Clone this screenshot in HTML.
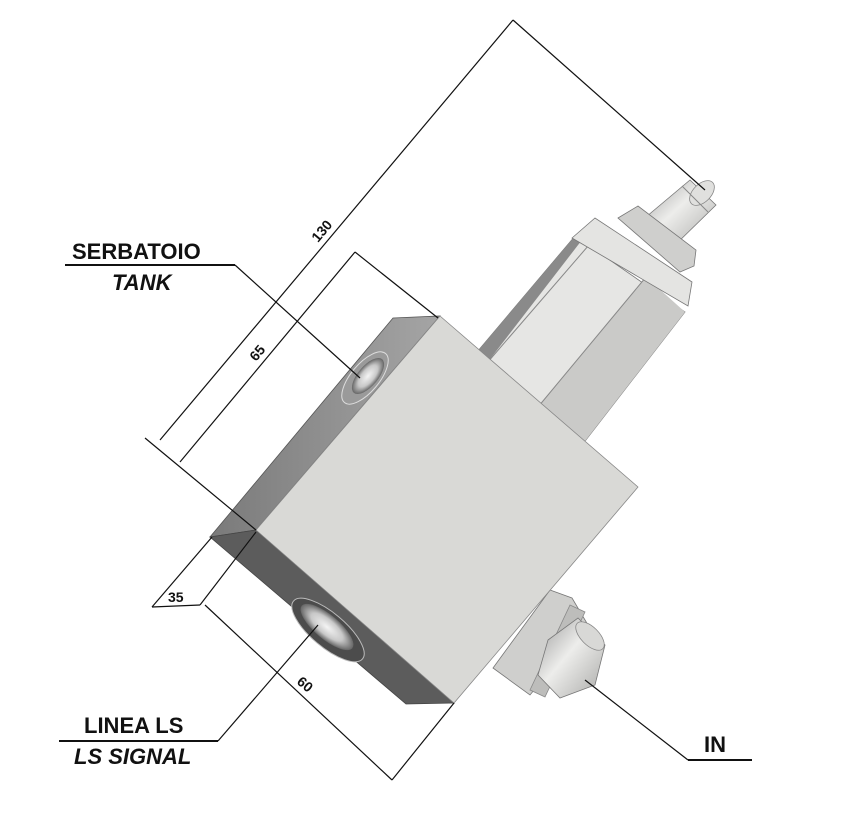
<!DOCTYPE html>
<html><head><style>
body{margin:0;background:#fff;}
svg{display:block;}
text{font-family:"Liberation Sans",sans-serif;font-weight:bold;fill:#111;}
</style></head><body>
<svg width="857" height="822" viewBox="0 0 857 822">
<defs>
<linearGradient id="cyl" x1="0" y1="0" x2="1" y2="1">
<stop offset="0" stop-color="#9a9a9a"/><stop offset="0.45" stop-color="#ededeb"/><stop offset="1" stop-color="#a8a8a6"/>
</linearGradient>
<linearGradient id="side" x1="0" y1="0" x2="1" y2="0">
<stop offset="0" stop-color="#7a7a7a"/><stop offset="1" stop-color="#a5a5a5"/>
</linearGradient>
<radialGradient id="hole"><stop offset="0" stop-color="#f4f4f4"/><stop offset="0.6" stop-color="#c8c8c8"/><stop offset="1" stop-color="#666"/></radialGradient>
</defs>

<!-- cartridge upper -->
<polygon points="640,222 690,180 716,205 670,250" fill="url(#cyl)" stroke="#777" stroke-width="0.8"/>
<ellipse cx="702" cy="193" rx="15" ry="9" transform="rotate(-45 702 193)" fill="#e0e0de" stroke="#888" stroke-width="0.8"/>
<line x1="682" y1="186" x2="708" y2="212" stroke="#888" stroke-width="1"/>
<polygon points="618,218 638,206 696,250 694,266 680,272" fill="#cfcfcd" stroke="#777" stroke-width="0.8"/>
<polygon points="477,352 575,236 685,312 582,445" fill="#e6e6e4" stroke="#777" stroke-width="0.8"/>
<polygon points="477,352 575,236 585,236 487,363" fill="#8a8a8a"/>
<polygon points="538,407 646,277 685,312 582,445" fill="#cacac8"/>
<line x1="487" y1="363" x2="595" y2="238" stroke="#888" stroke-width="1"/>
<line x1="538" y1="407" x2="646" y2="277" stroke="#888" stroke-width="1"/>
<polygon points="572,238 595,218 692,282 688,306" fill="#e4e4e2" stroke="#777" stroke-width="0.8"/>

<!-- lower fitting -->
<polygon points="493,668 550,590 572,598 588,625 530,695" fill="#cfcfcd" stroke="#777" stroke-width="0.8"/>
<polygon points="530,690 570,605 585,612 545,697" fill="#bdbdbb" stroke="#888" stroke-width="0.8"/>
<polygon points="548,640 578,618 605,645 595,685 560,698 538,675" fill="url(#cyl)" stroke="#777" stroke-width="0.8"/>
<ellipse cx="590" cy="636" rx="18" ry="9" transform="rotate(45 590 636)" fill="#d8d8d6" stroke="#888" stroke-width="0.8"/>

<!-- block -->
<polygon points="393,318 440,316 256,530 210,537" fill="url(#side)" stroke="#555" stroke-width="0.8"/>
<polygon points="210,537 256,530 454,703 406,704" fill="#5c5c5c" stroke="#444" stroke-width="0.8"/>
<polygon points="440,316 638,487 454,703 256,530" fill="#d9d9d6" stroke="#888" stroke-width="0.8"/>
<ellipse cx="365" cy="378" rx="32" ry="14" transform="rotate(-50 365 378)" fill="#9a9a9a" stroke="#ddd" stroke-width="1"/>
<ellipse cx="368" cy="376" rx="22" ry="10" transform="rotate(-50 368 376)" fill="url(#hole)"/>
<ellipse cx="328" cy="630" rx="45" ry="17" transform="rotate(40 328 630)" fill="#4c4c4c" stroke="#bbb" stroke-width="1"/>
<ellipse cx="327" cy="627" rx="33" ry="12" transform="rotate(40 327 627)" fill="url(#hole)"/>

<!-- dimension lines -->
<g stroke="#111" stroke-width="1.2" fill="none">
<line x1="160" y1="440" x2="513" y2="20"/>
<line x1="513" y1="20" x2="705" y2="190"/>
<line x1="145" y1="438" x2="256" y2="530"/>
<line x1="180" y1="462" x2="355" y2="252"/>
<line x1="355" y1="252" x2="438" y2="318"/>
<line x1="152" y1="607" x2="200" y2="605"/>
<line x1="152" y1="607" x2="212" y2="537"/>
<line x1="200" y1="605" x2="256" y2="532"/>
<line x1="205" y1="605" x2="392" y2="780"/>
<line x1="392" y1="780" x2="454" y2="703"/>
<line x1="65" y1="265" x2="235" y2="265" stroke-width="2"/>
<line x1="235" y1="265" x2="360" y2="378"/>
<line x1="59" y1="741" x2="218" y2="741" stroke-width="2"/>
<line x1="218" y1="741" x2="318" y2="625"/>
<line x1="688" y1="760" x2="752" y2="760" stroke-width="2"/>
<line x1="688" y1="760" x2="585" y2="680"/>
</g>
<text x="0" y="0" font-size="14" font-weight="normal" transform="translate(318,243) rotate(-50)">130</text>
<text x="0" y="0" font-size="14" font-weight="normal" transform="translate(256,362) rotate(-50)">65</text>
<text x="168" y="602" font-size="14">35</text>
<text x="0" y="0" font-size="14" font-weight="normal" transform="translate(296,683) rotate(40)">60</text>

<text x="72" y="259" font-size="22">SERBATOIO</text>
<text x="112" y="290" font-size="22" font-style="italic">TANK</text>
<text x="84" y="733" font-size="22">LINEA LS</text>
<text x="74" y="764" font-size="22" font-style="italic">LS SIGNAL</text>
<text x="704" y="752" font-size="22">IN</text>
</svg>
</body></html>
